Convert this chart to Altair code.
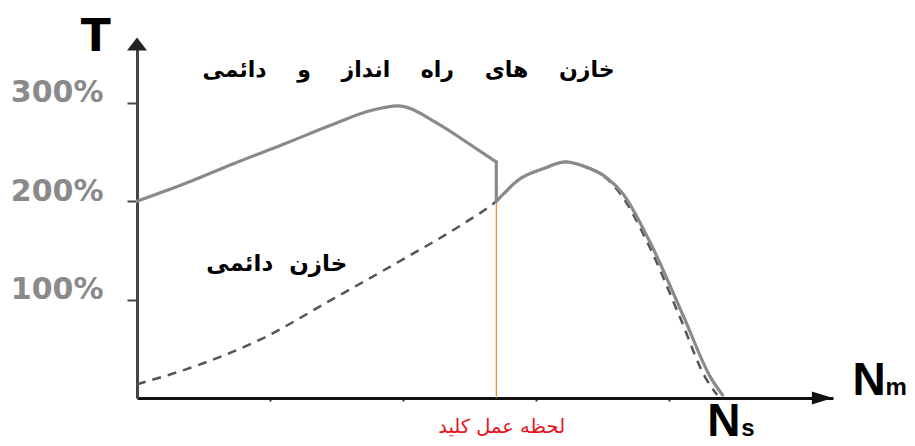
import altair as alt
import pandas as pd

# ---- data (x in speed units, y in % of rated torque) ----
# solid curve: start + run capacitors
solid_seg = ["a"] * 10 + ["b"] * 2 + ["c"] * 11
solid_x = [0, 0.36, 0.72, 1.10, 1.47, 1.75, 1.96, 2.26, 2.50, 2.70,
           2.70, 2.70,
           2.70, 2.88, 3.05, 3.22, 3.35, 3.53, 3.65, 3.86, 4.11, 4.31, 4.40]
solid_y = [200, 218, 238, 258, 278, 292, 297, 279, 258, 240,
           240, 200,
           200, 223, 233, 240, 236, 224, 208, 157, 82, 21, 3]

# dashed curve: run capacitor only
dashed_x = [0, 0.45, 0.95, 1.45, 1.96, 2.45, 2.70, 2.88, 3.05, 3.22, 3.35,
            3.53, 3.63, 3.84, 4.08, 4.27, 4.36]
dashed_y = [14, 33, 61, 99, 138, 177, 200, 223, 233, 240, 236,
            223, 208, 157, 82, 21, 3]

# switch moment
switch_x = [2.70]
switch_y = [200]

y_ticks = [100, 200, 300]
x_ticks = [1, 2, 3, 4]

# text annotations
NB = "\u00a0"
label_top = [(NB * 4).join(["خازن", "های", "راه", "انداز", "و", "دائمی"])]
label_run = [(NB * 2).join(["خازن", "دائمی"])]
label_switch = ["لحظه عمل کلید"]
label_T = ["T"]
label_N = ["N", "N"]
label_sub = ["m", "s"]

# ---- scales ----
X_MAX = 5.23
Y_MAX = 364
xs = alt.Scale(domain=[0, X_MAX], nice=False, zero=False)
ys = alt.Scale(domain=[0, Y_MAX], nice=False, zero=False)

solid_df = pd.DataFrame({"x": solid_x, "y": solid_y, "seg": solid_seg,
                         "i": list(range(len(solid_x)))})
dashed_df = pd.DataFrame({"x": dashed_x, "y": dashed_y,
                          "i": list(range(len(dashed_x)))})

base_axes = alt.Chart(pd.DataFrame({"x": [0], "y": [0]})).mark_point(opacity=0).encode(
    x=alt.X("x:Q", scale=xs, axis=alt.Axis(
        values=x_ticks, labels=False, title=None, grid=False,
        domainColor="#111", domainWidth=3, tickColor="#333",
        tickSize=3, tickWidth=2)),
    y=alt.Y("y:Q", scale=ys, axis=alt.Axis(
        values=y_ticks, labelExpr="datum.value + '%'", title=None, grid=False,
        domainColor="#444", domainWidth=3, tickColor="#444", tickSize=10,
        tickWidth=2, labelFont="DejaVu Sans", labelFontSize=30,
        labelFontWeight="bold", labelColor="#8a8a8a", labelPadding=24,
        labelBaseline="alphabetic", labelOffset=-1)),
)

dashed = alt.Chart(dashed_df).mark_line(
    color="#555", strokeWidth=2.5, strokeDash=[9, 7], interpolate="monotone"
).encode(x=alt.X("x:Q", scale=xs), y=alt.Y("y:Q", scale=ys), order="i:Q")

solid = alt.Chart(solid_df).mark_line(
    color="#8a8a8a", strokeWidth=3.2, interpolate="monotone", strokeCap="round",
    strokeJoin="round"
).encode(x=alt.X("x:Q", scale=xs), y=alt.Y("y:Q", scale=ys),
         detail="seg:N", order="i:Q")

switch_rule = alt.Chart(pd.DataFrame({"x": switch_x, "y": switch_y})).mark_rule(
    color="#f5821f", strokeWidth=1.2
).encode(x=alt.X("x:Q", scale=xs), y=alt.Y("y:Q", scale=ys), y2=alt.datum(0))

# arrow heads at axis ends
arrow_up = alt.Chart(pd.DataFrame({"x": [0], "y": [Y_MAX - 4]})).mark_point(
    shape="M-1,0.65L0,-0.65L1,0.65Z", size=400, filled=True, color="#222",
    opacity=1
).encode(x=alt.X("x:Q", scale=xs), y=alt.Y("y:Q", scale=ys))
arrow_right = alt.Chart(pd.DataFrame({"x": [X_MAX - 0.08], "y": [0]})).mark_point(
    shape="M-1,-0.62L1,0L-1,0.62Z", size=441, filled=True, color="#111",
    opacity=1
).encode(x=alt.X("x:Q", scale=xs), y=alt.Y("y:Q", scale=ys))

def txt(df, **kw):
    return alt.Chart(df).mark_text(**kw).encode(
        x=alt.X("x:Q", scale=xs), y=alt.Y("y:Q", scale=ys), text="t:N")

t_top = txt(pd.DataFrame({"x": [2.04], "y": [333], "t": label_top}),
            font="DejaVu Sans", fontSize=22, fontWeight="bold", color="#000",
            align="center", baseline="middle")
t_run = txt(pd.DataFrame({"x": [1.05], "y": [136], "t": label_run}),
            font="DejaVu Sans", fontSize=23, fontWeight="bold", color="#000",
            align="center", baseline="middle")
t_switch = txt(pd.DataFrame({"x": [2.74], "y": [-29.5], "t": label_switch}),
               font="DejaVu Sans", fontSize=19.5, color="#e8121c",
               align="center", baseline="middle")
t_T = txt(pd.DataFrame({"x": [-0.31], "y": [353], "t": label_T}),
          font="DejaVu Sans", fontSize=44, fontWeight="bold", color="#000",
          align="center", baseline="alphabetic")
t_N = txt(pd.DataFrame({"x": [5.376, 4.285], "y": [3, -38.5], "t": label_N}),
          font="Liberation Sans", fontSize=46, fontWeight="bold", color="#000",
          align="left", baseline="alphabetic")
t_sub = txt(pd.DataFrame({"x": [5.624, 4.54], "y": [3, -38.5], "t": label_sub}),
            font="Liberation Sans", fontSize=24, fontWeight="bold", color="#000",
            align="left", baseline="alphabetic")

chart = alt.layer(
    base_axes, switch_rule, dashed, solid, arrow_up, arrow_right,
    t_top, t_run, t_switch, t_T, t_N, t_sub
).properties(
    width=696, height=358,
    autosize=alt.AutoSizeParams(type="none"),
    padding={"left": 129, "top": 32, "right": 74, "bottom": 39},
    background="white",
).configure_view(stroke=None)

chart.save("out.html", embed_options={"renderer": "svg", "actions": False})
